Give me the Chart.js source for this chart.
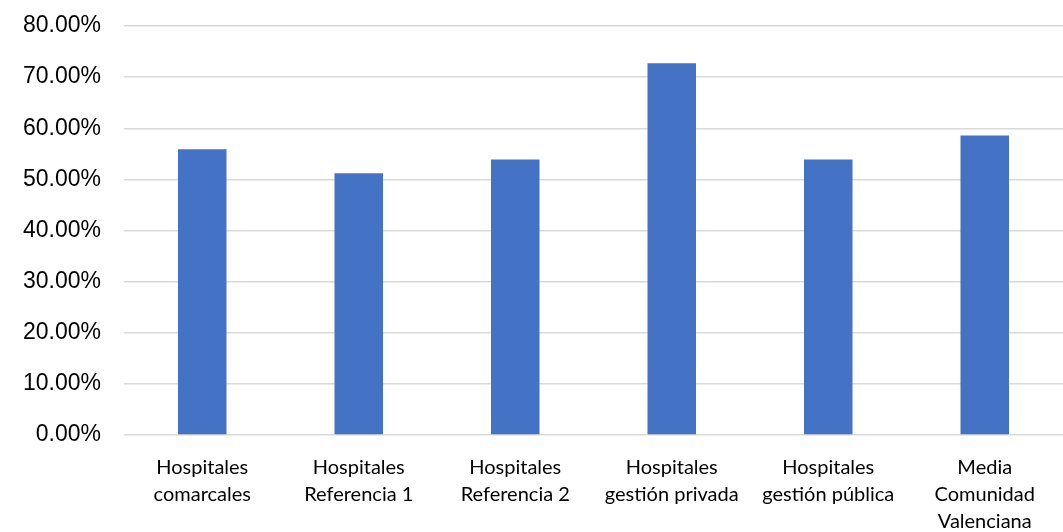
<!DOCTYPE html>
<html>
<head>
<meta charset="utf-8">
<script src="https://cdn.jsdelivr.net/npm/chart.js@4/dist/chart.umd.min.js"></script>
<style>
  html, body { margin: 0; padding: 0; background: #fff; }
  #wrap { width: 1063px; height: 532px; position: relative; }
</style>
</head>
<body>
<div id="wrap"><canvas id="chart"></canvas></div>
<script>
let categories = [
    ['Hospitales', 'comarcales'],
    ['Hospitales', 'Referencia 1'],
    ['Hospitales', 'Referencia 2'],
    ['Hospitales', 'gestión privada'],
    ['Hospitales', 'gestión pública'],
    ['Media', 'Comunidad', 'Valenciana']
]

let values = [0.559, 0.512, 0.539, 0.727, 0.539, 0.586]

let yTicks = [0, 0.1, 0.2, 0.3, 0.4, 0.5, 0.6, 0.7, 0.8]

let options = {
    maintainAspectRatio: false,
    responsive: true,
    animation: false,
    layout: {
        padding: {top: 0, right: 0, bottom: -14, left: 0}
    },
    scales: {
        y: {
            min: yTicks[0],
            max: yTicks[yTicks.length - 1],
            afterBuildTicks: function (axis) {
                axis.ticks = yTicks.map(v => ({value: v}))
            },
            afterFit: function (axis) {
                // keep the 80% line close to the top edge
                axis.paddingTop = 26
                axis.paddingBottom = 0
            },
            grid: {
                color: '#d9d9d9',
                lineWidth: 1.5,
                drawTicks: false
            },
            border: {display: false},
            ticks: {
                padding: 23,
                color: '#000',
                font: {family: 'Liberation Sans, Arial, sans-serif', size: 23},
                callback: v => (v * 100).toFixed(2) + '%'
            }
        },
        x: {
            grid: {display: false},
            border: {display: false},
            ticks: {
                padding: 11,
                color: '#000',
                maxRotation: 0,
                autoSkip: false,
                font: {family: 'Lato, sans-serif', size: 20, lineHeight: 1.35}
            }
        }
    },
    plugins: {
        legend: {display: false},
        tooltip: {enabled: false}
    }
}

let chart = new Chart(document.getElementById('chart'), {
    type: 'bar',
    data: {
        labels: categories,
        datasets: [
            {
                data: values,
                backgroundColor: '#4472c4',
                barPercentage: 0.31,
                categoryPercentage: 1
            }
        ]
    },
    options: options
});
</script>
</body>
</html>
